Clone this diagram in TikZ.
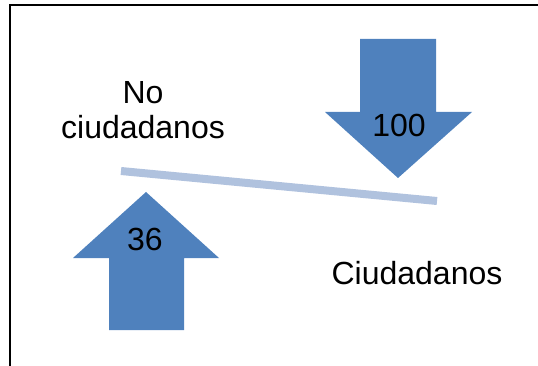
\documentclass[tikz,border=0pt]{standalone}
\usepackage{fontspec}
\setmainfont{Liberation Sans}
\usetikzlibrary{positioning}
\definecolor{arrowblue}{HTML}{4F81BD}
\definecolor{barblue}{HTML}{B0C2DE}
\tikzset{flow/.style={fill=arrowblue,draw=none}}
\tikzset{lab/.style={font=\fontsize{32}{35}\selectfont,inner sep=0pt,align=center}}

\begin{document}
\begin{tikzpicture}[x=1pt,y=-1pt]

  \useasboundingbox (0,0) rectangle (538,366);
  \draw[line width=2pt] (10,5) rectangle (560,390);

  % the balance bar
  \coordinate (barL) at (121,171);
  \coordinate (barR) at (437,201);
  \draw[barblue,line width=8pt] (barL) -- (barR);

  % arrow down
  \fill[flow] (360,39) -- (436,39) -- (436,112) -- (472,112)
              -- (398,178) -- (325,112) -- (360,112) -- cycle;
  \node[lab] (cien) at (399,125) {100};

  % arrow up
  \fill[flow] (109,330) -- (184,330) -- (184,258) -- (219,258)
              -- (146,192) -- (73,258) -- (109,258) -- cycle;
  \node[lab] (treinta) at (145,239) {36};

  \node[lab] (noc) at (143,110) {No\\ciudadanos};
  \node[lab] (ciu) at (417,273) {Ciudadanos};

\end{tikzpicture}
\end{document}
